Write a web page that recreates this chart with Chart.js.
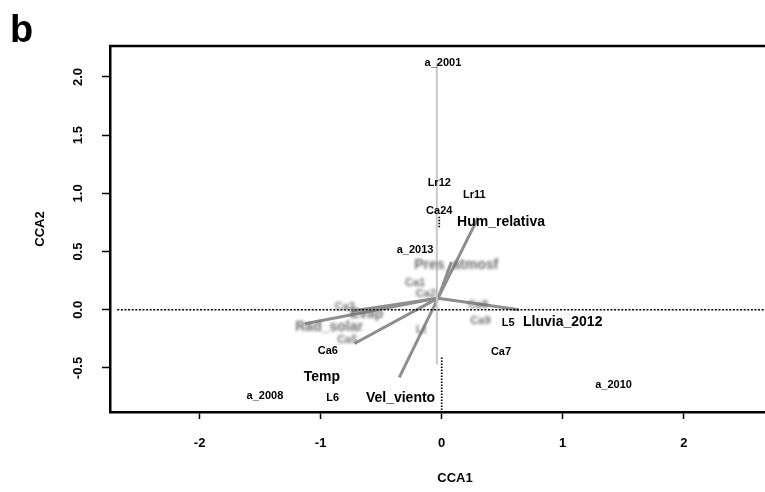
<!DOCTYPE html>
<html>
<head>
<meta charset="utf-8">
<script src="https://cdn.jsdelivr.net/npm/chart.js@4.4.1/dist/chart.umd.min.js"></script>
<style>
  html, body { margin:0; padding:0; background:#fff; overflow:hidden; width:765px; height:492px; }
  #wrap { position:relative; width:800px; height:492px; }
  #panel { position:absolute; left:10px; top:10px; font:bold 38px "Liberation Sans", Arial, sans-serif; line-height:38px; color:#000; }
</style>
</head>
<body>
<div id="wrap"><canvas id="c" width="800" height="492"></canvas></div>
<div id="panel">b</div>
<script>
// ---- axis ticks ----
const xTickValues = [-2, -1, 0, 1, 2];
const xTickLabels = ['-2', '-1', '0', '1', '2'];
const yTickValues = [-0.5, 0.0, 0.5, 1.0, 1.5, 2.0];
const yTickLabels = ['-0.5', '0.0', '0.5', '1.0', '1.5', '2.0'];
const xRange = [-2.74, 2.96];
const yRange = [-0.878, 2.266];

// ---- sites / species (black labels) ----
const siteNames = ['a_2001', 'Lr12', 'Lr11', 'Ca24', 'a_2013', 'Ca6', 'a_2008', 'L6', 'L5', 'Ca7', 'a_2010'];
const siteX     = [0.01, -0.02, 0.27, -0.02, -0.22, -0.94, -1.46, -0.90, 0.55, 0.49, 1.42];
const siteY     = [2.12, 1.09, 0.99, 0.85, 0.51, -0.35, -0.74, -0.76, -0.11, -0.36, -0.65];

// ---- faint (blurred) labels near the origin ----
const faintNames = ['Ca1', 'Ca2', 'Ca3', 'Ca5', 'Lt', 'Ca8', 'Ca9'];
const faintX     = [-0.22, -0.13, -0.80, -0.78, -0.17, 0.30, 0.32];
const faintY     = [0.23, 0.14, 0.02, -0.26, -0.17, 0.04, -0.10];

// ---- environmental arrows ----
const arrowOrigin = [-0.03, 0.10];
const envNames  = ['Hum_relativa', 'Vel_viento', 'Lluvia_2012', 'Temp', 'Rad_solar', 'Pres_atmosf', 'Evap'];
const envTipX   = [0.30, -0.35, 0.64, -0.72, -1.13, 0.08, -0.74];
const envTipY   = [0.79, -0.58, 0.00, -0.29, -0.12, 0.41, -0.01];
const envLabelX = [0.49, -0.34, 1.00, -0.99, -0.93, 0.12, -0.62];
const envLabelY = [0.75, -0.76, -0.11, -0.58, -0.15, 0.38, -0.04];
const envLabelFaint = [false, false, false, false, true, true, true];

// ---- reference lines ----
const hLineX = [-2.68, 2.96];          // y = 0 dotted
const vGreyY = [2.12, -0.47];          // grey vertical at x≈0
const vDotLowY = [-0.41, -0.88];       // black dotted lower part
const vDotUpY = [0.80, 0.71];          // black dotted small part

const FONT = '"Liberation Sans", Arial, sans-serif';

const datasets = [];
datasets.push({
  type: 'line', data: hLineX.map(x => ({x, y: 0})), borderColor: '#000', borderWidth: 1.5,
  borderDash: [2, 1.6], pointRadius: 0, fill: false
});
datasets.push({
  type: 'line', data: vGreyY.map(y => ({x: -0.04, y})), borderColor: '#c8c8c8', borderWidth: 2,
  pointRadius: 0, fill: false
});
datasets.push({
  type: 'line', data: vDotLowY.map(y => ({x: 0.0, y})), borderColor: '#000', borderWidth: 1.7,
  borderDash: [1.5, 1.5], pointRadius: 0, fill: false
});
datasets.push({
  type: 'line', data: vDotUpY.map(y => ({x: -0.02, y})), borderColor: '#000', borderWidth: 1.7,
  borderDash: [1.5, 1.5], pointRadius: 0, fill: false
});
envNames.forEach((n, i) => {
  datasets.push({
    type: 'line', label: n,
    data: [{x: arrowOrigin[0], y: arrowOrigin[1]}, {x: envTipX[i], y: envTipY[i]}],
    borderColor: '#8e8e8e', borderWidth: 3, pointRadius: 0, fill: false
  });
});

const framePlugin = {
  id: 'frame',
  afterDraw(chart) {
    const {ctx, chartArea} = chart;
    ctx.save();
    ctx.strokeStyle = '#000';
    ctx.lineWidth = 2.5;
    ctx.beginPath();
    ctx.moveTo(chartArea.left - 1, chartArea.top);
    ctx.lineTo(chartArea.right + 5, chartArea.top);
    ctx.stroke();
    ctx.restore();
  }
};

const labelPlugin = {
  id: 'labels',
  afterDatasetsDraw(chart) {
    const {ctx} = chart;
    const xs = chart.scales.x, ys = chart.scales.y;
    ctx.save();
    ctx.textAlign = 'center';
    ctx.textBaseline = 'middle';
    // faint blurred labels
    ctx.filter = 'blur(1.4px)';
    ctx.fillStyle = '#6e6e6e';
    ctx.font = 'bold 11px ' + FONT;
    faintNames.forEach((n, i) => ctx.fillText(n, xs.getPixelForValue(faintX[i]), ys.getPixelForValue(faintY[i])));
    ctx.font = 'bold 14px ' + FONT;
    envNames.forEach((n, i) => {
      if (envLabelFaint[i]) ctx.fillText(n, xs.getPixelForValue(envLabelX[i]), ys.getPixelForValue(envLabelY[i]));
    });
    ctx.filter = 'none';
    // sharp labels
    ctx.fillStyle = '#000';
    ctx.font = 'bold 11px ' + FONT;
    siteNames.forEach((n, i) => ctx.fillText(n, xs.getPixelForValue(siteX[i]), ys.getPixelForValue(siteY[i])));
    ctx.font = 'bold 14px ' + FONT;
    envNames.forEach((n, i) => {
      if (!envLabelFaint[i]) ctx.fillText(n, xs.getPixelForValue(envLabelX[i]), ys.getPixelForValue(envLabelY[i]));
    });
    ctx.restore();
  }
};

new Chart(document.getElementById('c'), {
  type: 'scatter',
  data: { datasets },
  options: {
    responsive: false,
    animation: false,
    devicePixelRatio: 1,
    layout: { padding: { top: 46, left: 0, right: 0, bottom: 0 } },
    plugins: { legend: { display: false }, tooltip: { enabled: false }, title: { display: false } },
    scales: {
      x: {
        type: 'linear', position: 'bottom', min: xRange[0], max: xRange[1],
        afterBuildTicks: s => { s.ticks = xTickValues.map(v => ({value: v})); },
        afterFit: s => { s.height = 80; },
        ticks: {
          autoSkip: false, maxRotation: 0, padding: 17, color: '#000',
          font: { family: FONT, size: 13, weight: 'bold' },
          callback: (v, i) => xTickLabels[i]
        },
        grid: { display: true, drawOnChartArea: false, drawTicks: true, tickLength: 7, tickColor: '#000', tickWidth: 1.5 },
        border: { display: true, color: '#000', width: 2.5 },
        title: { display: true, text: 'CCA1', color: '#000', font: { family: FONT, size: 13, weight: 'bold' }, padding: { top: 0, bottom: 6 } }
      },
      y: {
        type: 'linear', position: 'left', min: yRange[0], max: yRange[1],
        afterBuildTicks: s => { s.ticks = yTickValues.map(v => ({value: v})); },
        afterFit: s => { s.width = 110; },
        ticks: {
          autoSkip: false, minRotation: 90, maxRotation: 90, crossAlign: 'center', padding: 12, color: '#000',
          font: { family: FONT, size: 13, weight: 'bold' },
          callback: (v, i) => yTickLabels[i]
        },
        grid: { display: true, drawOnChartArea: false, drawTicks: true, tickLength: 8, tickColor: '#000', tickWidth: 1.5 },
        border: { display: true, color: '#000', width: 2.5 },
        title: { display: true, text: 'CCA2', color: '#000', font: { family: FONT, size: 13, weight: 'bold' }, padding: { top: 33, bottom: 0 } }
      }
    }
  },
  plugins: [framePlugin, labelPlugin]
});
</script>
</body>
</html>
